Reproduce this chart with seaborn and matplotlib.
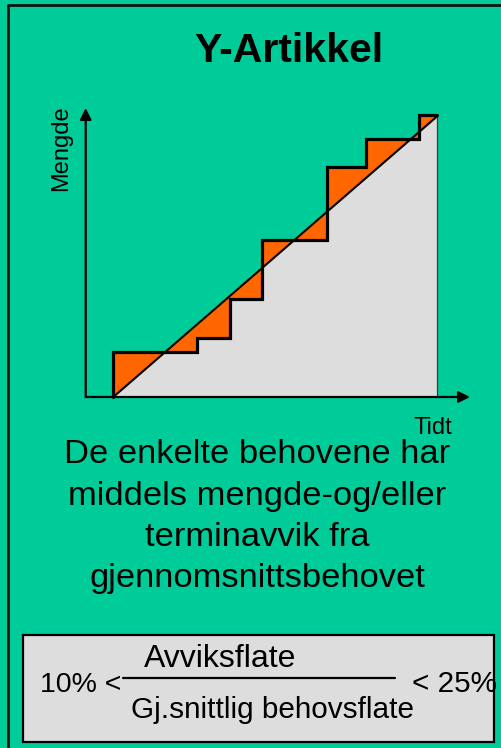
import matplotlib
matplotlib.use("Agg")
import matplotlib.pyplot as plt
import seaborn as sns
import pandas as pd
from matplotlib.patches import Rectangle
from matplotlib.lines import Line2D

# ---- data ----
step_times = [0, 26, 36, 46, 66, 78, 94.5, 100]        # times where demand steps change
step_levels = [16, 21, 35, 56, 82, 92, 100.6]          # cumulative demand level on each interval
avg_t = [0, 100]                                       # average demand line (time)
avg_q = [0, 100]                                       # average demand line (quantity)

title = "Y-Artikkel"
y_label = "Mengde"
x_label = "Tidt"
body_lines = ["De enkelte behovene har", "middels mengde-og/eller",
              "terminavvik fra", "gjennomsnittsbehovet"]
frac_top = "Avviksflate"
frac_bottom = "Gj.snittlig behovsflate"
left_bound = "10% <"
right_bound = "< 25%"

TEAL = "#00CC99"
ORANGE = "#FF6600"
GREY = "#DDDDDD"

sns.set_theme(style="white")
plt.rcParams["font.family"] = ["Liberation Sans", "DejaVu Sans"]
plt.rcParams["text.color"] = "black"

W, H = 502, 748
fig = plt.figure(figsize=(W / 100, H / 100), dpi=100)
fig.patch.set_facecolor(TEAL)

def fx(x):
    return x / W

def fy(y):
    return 1 - y / H

# outer border: only the left and top edges are inside the picture
fig.add_artist(Line2D([fx(8), fx(8), fx(W + 20)], [fy(H + 20), fy(5), fy(5)],
                      transform=fig.transFigure, lw=2, color="#111111"))

# ---- chart axes: t 0..100 -> px 113.3..436.7 ; q 0..100 -> px 397..116.7 ----
sx = (436.7 - 113.3) / 100
sy = (397 - 116.7) / 100
xlo, xhi, ylo, yhi = -10, 115, -15, 110
left_px = 113.3 + xlo * sx
right_px = 113.3 + xhi * sx
bot_px = 397 - ylo * sy
top_px = 397 - yhi * sy
ax = fig.add_axes([fx(left_px), fy(bot_px), (right_px - left_px) / W, (bot_px - top_px) / H])
ax.set_xlim(xlo, xhi)
ax.set_ylim(ylo, yhi)
ax.set_axis_off()

# build step path from data
px, py = [step_times[0]], [0]
for i, lev in enumerate(step_levels):
    px += [step_times[i], step_times[i + 1]]
    py += [lev, lev]

# grey area under average line
ax.fill([avg_t[0], avg_t[1], avg_t[1]], [avg_q[0], avg_q[0], avg_q[1]], color=GREY, lw=0, zorder=1)
ax.plot([avg_t[1], avg_t[1]], [0, avg_q[1]], color="#3a3a3a", lw=0.9, zorder=2)
# orange deviation area between step curve and average line
ax.fill(px + [avg_t[1], avg_t[0]], py + [avg_q[1], avg_q[0]], color=ORANGE, lw=0, zorder=2)

df_step = pd.DataFrame({"t": px, "q": py})
sns.lineplot(data=df_step, x="t", y="q", sort=False, estimator=None, color="black",
             lw=2.3, ax=ax, zorder=4, solid_joinstyle="miter")
df_avg = pd.DataFrame({"t": avg_t, "q": avg_q})
sns.lineplot(data=df_avg, x="t", y="q", sort=False, estimator=None, color="black",
             lw=1.5, ax=ax, zorder=3)
ax.set_xlabel("")
ax.set_ylabel("")
ax.set_axis_off()

# axes with arrows
ax_x0 = (85.7 - 113.3) / sx
ax.annotate("", xy=(ax_x0, 103.1), xytext=(ax_x0, 0),
            arrowprops=dict(arrowstyle="-|>", lw=1.6, color="black", mutation_scale=17,
                            shrinkA=0, shrinkB=0), zorder=5)
ax.annotate("", xy=(110.3, 0), xytext=(ax_x0, 0),
            arrowprops=dict(arrowstyle="-|>", lw=1.6, color="black", mutation_scale=17,
                            shrinkA=0, shrinkB=0), zorder=5)

# ---- texts ----
fig.text(fx(289), fy(61.7), title, ha="center", va="baseline", fontsize=29.5,
         fontweight="bold", color="black")
fig.text(fx(61), fy(148), y_label, ha="center", va="center", rotation=90, fontsize=17,
         color="black")
fig.text(fx(433), fy(434), x_label, ha="center", va="baseline", fontsize=17, color="black")
for line, base in zip(body_lines, [463.3, 504.5, 546.0, 586.7]):
    fig.text(fx(257), fy(base), line, ha="center", va="baseline", fontsize=24.8, color="black")

# ---- bottom box ----
fig.add_artist(Rectangle((fx(22.7), fy(741.7)), fx(494) - fx(22.7), fy(635) - fy(741.7),
                         transform=fig.transFigure, fc=GREY, ec="black", lw=1.6))
fig.add_artist(Line2D([fx(123), fx(395)], [fy(677.7), fy(677.7)], transform=fig.transFigure,
                      color="black", lw=1.6))
fig.text(fx(220), fy(666.7), frac_top, ha="center", va="baseline", fontsize=23, color="black")
fig.text(fx(273), fy(718.3), frac_bottom, ha="center", va="baseline", fontsize=21.4, color="black")
fig.text(fx(40), fy(692.5), left_bound, ha="left", va="baseline", fontsize=20.5, color="black")
fig.text(fx(411.7), fy(692.0), right_bound, ha="left", va="baseline", fontsize=21.3, color="black")

fig.savefig("out.png", dpi=100, facecolor=fig.get_facecolor())
